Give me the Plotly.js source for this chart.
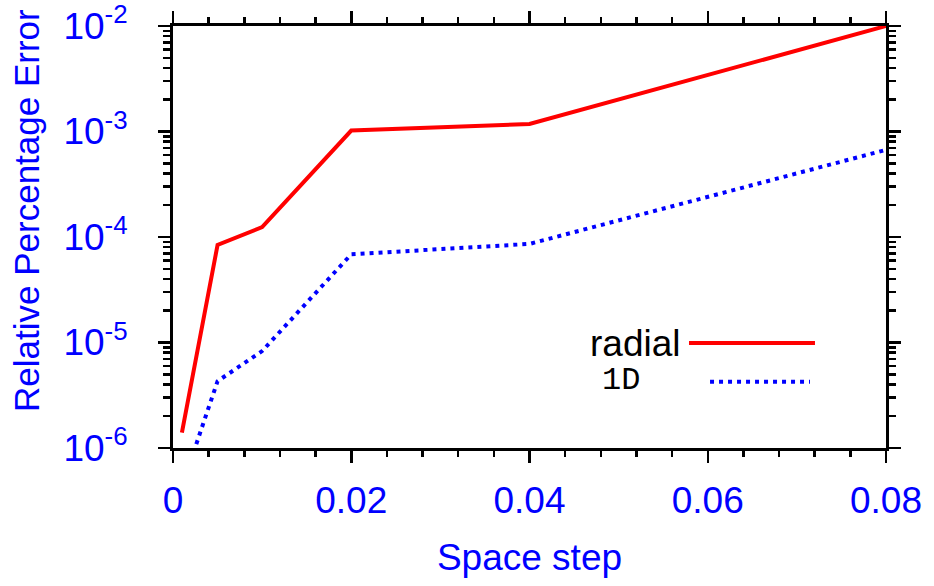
<!DOCTYPE html>
<html>
<head>
<meta charset="utf-8">
<script src="https://cdn.plot.ly/plotly-3.0.1.min.js"></script>
<style>html,body{margin:0;padding:0;background:#fff;}#chart{width:934px;height:586px;}</style>
</head>
<body>
<div id="chart"></div>
<script>
// Data
var spaceStep = [0.001, 0.005, 0.01, 0.02, 0.04, 0.08];
var radialError = [1.4e-6, 8.4e-5, 1.24e-4, 1.02e-3, 1.18e-3, 1.0e-2];
var oneDError = [4.3e-7, 4.3e-6, 8.3e-6, 6.85e-5, 8.6e-5, 6.7e-4];
var yTickVals = [1e-6, 1e-5, 1e-4, 1e-3, 1e-2];
var yTickText = ['10<sup>-6</sup>', '10<sup>-5</sup>', '10<sup>-4</sup>', '10<sup>-3</sup>', '10<sup>-2</sup>'];
var seriesNames = ['radial', '1D'];

var minorLog = [];
for (var k = -6; k < -2; k++) {
  for (var d = 2; d <= 9; d++) minorLog.push(d * Math.pow(10, k));
}

var FONT = 'Liberation Sans, Arial, Helvetica, sans-serif';
var BLUE = '#0000ff';

var traces = [
  {x: spaceStep, y: radialError, name: seriesNames[0], type: 'scatter', mode: 'lines',
   line: {color: '#ff0000', width: 4}, cliponaxis: true},
  {x: spaceStep, y: oneDError, name: seriesNames[1], type: 'scatter', mode: 'lines',
   line: {color: BLUE, width: 4, dash: '4px,5px'}, cliponaxis: true}
];

var layout = {
  width: 934, height: 586,
  margin: {l: 173, r: 48, t: 26, b: 138},
  paper_bgcolor: '#ffffff', plot_bgcolor: '#ffffff',
  showlegend: false,
  font: {family: FONT, color: BLUE, size: 37},
  xaxis: {
    range: [0, 0.08], dtick: 0.02, tick0: 0,
    showgrid: false, zeroline: false,
    showline: true, linecolor: '#000', linewidth: 3, mirror: 'ticks',
    ticks: 'outside', ticklen: 12, tickwidth: 2.5, tickcolor: '#000',
    minor: {dtick: 0.004, ticks: 'outside', ticklen: 6, tickwidth: 2.5, tickcolor: '#000', showgrid: false},
    tickfont: {family: FONT, size: 37, color: BLUE},
    ticklabelstandoff: 6,
    title: {text: 'Space step', font: {family: FONT, size: 37, color: BLUE}, standoff: 24}
  },
  yaxis: {
    type: 'log', range: [-6, -2],
    tickvals: yTickVals, ticktext: yTickText,
    showgrid: false, zeroline: false,
    showline: true, linecolor: '#000', linewidth: 3, mirror: 'ticks',
    ticks: 'outside', ticklen: 12, tickwidth: 2.5, tickcolor: '#000',
    minor: {tickvals: minorLog, ticks: 'outside', ticklen: 7, tickwidth: 2.5, tickcolor: '#000', showgrid: false},
    tickfont: {family: FONT, size: 37, color: BLUE},
    ticklabelstandoff: 23
  },
  annotations: [
    {text: 'Relative Percentage Error', xref: 'paper', yref: 'paper', x: -0.2048, y: 0.564,
     xanchor: 'center', yanchor: 'middle', textangle: -90, showarrow: false,
     font: {family: FONT, size: 35, color: BLUE}},
    {text: seriesNames[0], xref: 'paper', yref: 'paper', x: 0.7153, y: 0.2488,
     xanchor: 'right', yanchor: 'middle', showarrow: false,
     font: {family: FONT, size: 37, color: '#000'}},
    {text: seriesNames[1], xref: 'paper', yref: 'paper', x: 0.6578, y: 0.161,
     xanchor: 'right', yanchor: 'middle', showarrow: false,
     font: {family: 'Liberation Mono, Courier New, monospace', size: 32, color: '#000'}}
  ],
  shapes: [
    {type: 'line', xref: 'paper', yref: 'paper', x0: 0.7237, x1: 0.9004, y0: 0.2488, y1: 0.2488,
     line: {color: '#ff0000', width: 4}},
    {type: 'line', xref: 'paper', yref: 'paper', x0: 0.7532, x1: 0.8934, y0: 0.157, y1: 0.157,
     line: {color: BLUE, width: 4, dash: '4px,5px'}}
  ]
};

Plotly.newPlot('chart', traces, layout, {staticPlot: true, displayModeBar: false});
</script>
</body>
</html>
